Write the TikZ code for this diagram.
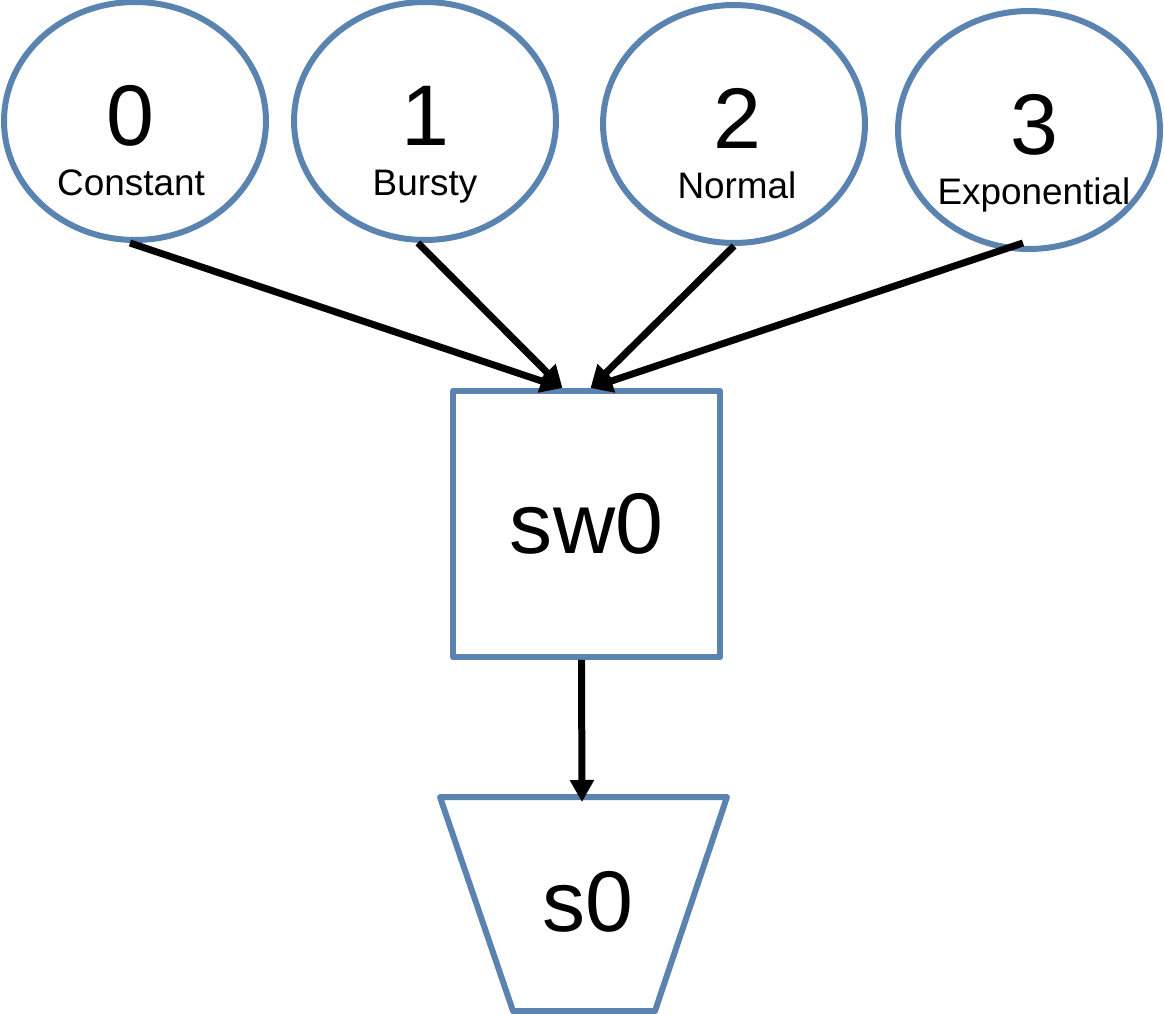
\documentclass[tikz,border=0pt]{standalone}
\usepackage{fontspec}
\setmainfont{Liberation Sans}
\usetikzlibrary{shapes.geometric}
\usetikzlibrary{arrows.meta}
\usetikzlibrary{positioning}
\definecolor{nodeblue}{RGB}{91,131,176}

\begin{document}
\begin{tikzpicture}[x=0.02cm,y=-0.02cm,
  source/.style={ellipse,draw=nodeblue,line width=0.12cm,minimum width=5.24cm,minimum height=4.76cm,inner sep=0pt},
  switchbox/.style={rectangle,draw=nodeblue,line width=0.12cm,line join=round,minimum width=5.34cm,minimum height=5.32cm,inner sep=0pt,font=\fontsize{49pt}{49pt}\selectfont},
  bignum/.style={anchor=base,inner sep=0pt,font=\fontsize{49pt}{49pt}\selectfont},
  kind/.style={anchor=base,inner sep=0pt,font=\fontsize{21pt}{21pt}\selectfont},
  flow/.style={draw=black,line width=0.14cm,-{Triangle[length=0.44cm,width=0.46cm]}}]
\useasboundingbox (0,0) rectangle (1164,1014);

% traffic sources
\node[source] (src0) at (135,121) {};
\node[source] (src1) at (425,121) {};
\node[source] (src2) at (734,124) {};
\node[source] (src3) at (1029,130) {};
\node[bignum] (n0) at ([xshift=-0.1cm,yshift=-0.5cm]src0.center) {0};
\node[bignum] (n1) at ([yshift=-0.5cm]src1.center) {1};
\node[bignum] (n2) at ([xshift=0.06cm,yshift=-0.5cm]src2.center) {2};
\node[bignum] (n3) at ([xshift=0.1cm,yshift=-0.5cm]src3.center) {3};
\node[kind] (l0) at ([xshift=-0.08cm,yshift=-1.5cm]src0.center) {Constant};
\node[kind] (l1) at ([yshift=-1.5cm]src1.center) {Bursty};
\node[kind] (l2) at ([xshift=0.06cm,yshift=-1.5cm]src2.center) {Normal};
\node[kind] (l3) at ([xshift=0.1cm,yshift=-1.5cm]src3.center) {Exponential};

% switch
\node[switchbox] (sw0) at (586.5,524) {sw0};

% sink
\draw[draw=nodeblue,line width=0.12cm,line join=round] (440,797) -- (727,797) -- (655,1011) -- (513,1011) -- cycle;
\node[inner sep=0pt,font=\fontsize{49pt}{49pt}\selectfont] (s0) at (588,902) {s0};
\coordinate (s0top) at (582,802);

\draw[flow] ([xshift=-0.1cm]src0.south) -- ([xshift=-0.48cm]sw0.north);
\draw[flow] ([xshift=-0.14cm]src1.south) -- ([xshift=-0.48cm]sw0.north);
\draw[flow] (src2.south) -- ([xshift=0.08cm]sw0.north);
\draw[flow] ([xshift=-0.12cm,yshift=0.18cm]src3.south) -- ([xshift=0.08cm]sw0.north);
\draw[flow] ([xshift=-0.1cm]sw0.south) -- (s0top);

\end{tikzpicture}
\end{document}
